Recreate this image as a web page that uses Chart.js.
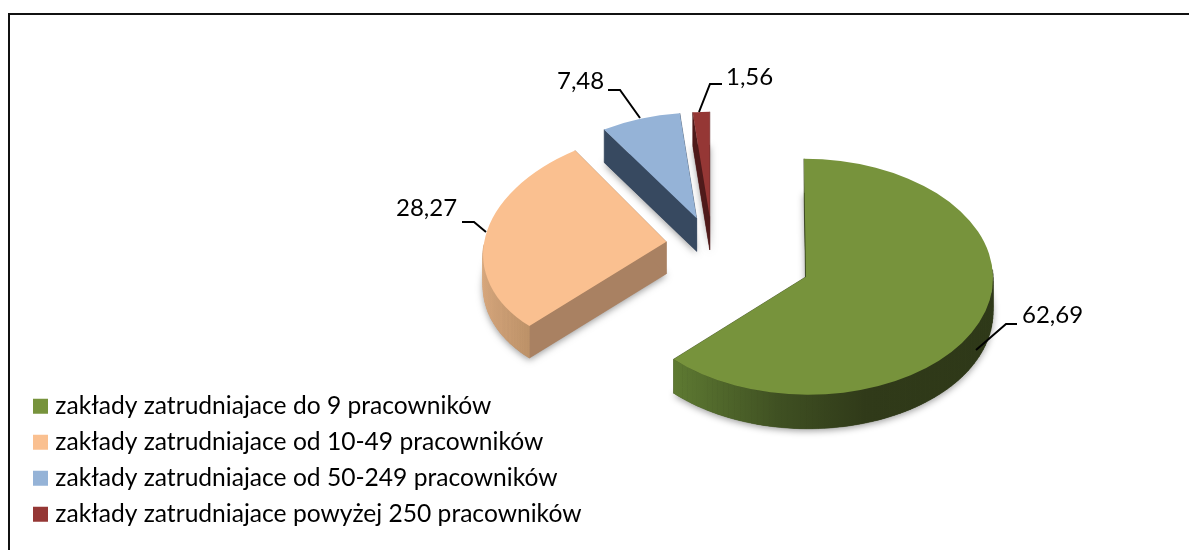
<!DOCTYPE html>
<html>
<head>
<meta charset="utf-8">
<title>Zakłady</title>
<script src="https://cdn.jsdelivr.net/npm/chart.js@4/dist/chart.umd.js"></script>
<style>
    html, body { margin: 0; padding: 0; background: #fff; overflow: hidden; }
    #frame { position: absolute; left: 8px; top: 13px; right: 0; bottom: 0; border-left: 2px solid #111; border-top: 2px solid #111; }
    #chart { position: absolute; left: 0; top: 0; }
</style>
</head>
<body>
<div id="frame"></div>
<canvas id="chart" width="1189" height="550"></canvas>
<script>
// --- Dane ---
const categories = [
    'zakłady zatrudniajace do 9 pracowników',
    'zakłady zatrudniajace od 10-49 pracowników',
    'zakłady zatrudniajace od 50-249 pracowników',
    'zakłady zatrudniajace powyżej 250 pracowników'
];
const shares = [62.69, 28.27, 7.48, 1.56];
const sliceColors = ['#77933C', '#FAC090', '#95B3D7', '#953735'];

// --- Wygląd 3D (perspektywa jest tylko udawana, każdy wycinek ma własne skalowanie) ---
const pieCenter = { x: 712, y: 245 };
const explodeTilt = 0.6;
const explode = [102, 46, 47, 47];
const liftY = [8, 0, 0, 0];
const faceRx = [187, 183, 172, 174];
const faceRy = [118, 113, 105.5, 105];
const skewX = [2, -8.6, 0, 0];
const skewY = [0, -7.4, 0, 0];
const depth = [34, 32, 33, 33];
const cutColors = ['#35421B', '#A98162', '#374960', '#4F1A1A'];
const wallStops = [
    [[0, '#5E7A32'], [0.33, '#3F5022'], [0.6, '#303A19'], [1, '#2E3818']],
    [[0, '#D6A67C'], [0.5, '#BD9268'], [1, '#A98162']],
    [[0, '#374960'], [1, '#374960']],
    [[0, '#4F1A1A'], [1, '#4F1A1A']]
];

// Linie odniesienia i etykiety
const labelAnchors = [
    { text: [1022, 315], line: [[1017, 324], [1006, 324], [976, 350]] },
    { text: [396, 208], line: [[462, 222], [474, 222], [486, 232]] },
    { text: [557, 81], line: [[608, 90], [620, 90], [640, 118]] },
    { text: [726, 77], line: [[722, 84], [710, 84], [699, 112]] }
];

function sliceView(arc, i) {
    const { startAngle, endAngle, x, y, outerRadius } = arc.getProps(['startAngle', 'endAngle', 'x', 'y', 'outerRadius'], true);
    const mid = (startAngle + endAngle) / 2;
    const apexX = pieCenter.x + Math.cos(mid) * explode[i];
    const apexY = pieCenter.y + Math.sin(mid) * explode[i] * explodeTilt + liftY[i];
    const a = faceRx[i] / outerRadius, b = skewY[i] / outerRadius;
    const c = skewX[i] / outerRadius, d = faceRy[i] / outerRadius;
    return {
        startAngle, endAngle, apexX, apexY,
        matrix: [a, b, c, d, apexX - a * x - c * y, apexY - b * x - d * y],
        // punkt na krawędzi ściany górnej
        rim: t => [
            apexX + faceRx[i] * Math.cos(t) + skewX[i] * Math.sin(t),
            apexY + skewY[i] * Math.cos(t) + faceRy[i] * Math.sin(t)
        ]
    };
}

function fillQuad(ctx, p, q, h) {
    ctx.beginPath();
    ctx.moveTo(p[0], p[1]);
    ctx.lineTo(q[0], q[1]);
    ctx.lineTo(q[0], q[1] + h);
    ctx.lineTo(p[0], p[1] + h);
    ctx.closePath();
    ctx.fill();
    ctx.stroke();
}

function drawWalls(ctx, view, i) {
    const h = depth[i];
    const steps = 120;
    const pts = [];
    const angles = [];
    for (let s = 0; s <= steps; s++) {
        const t = view.startAngle + (view.endAngle - view.startAngle) * s / steps;
        angles.push(t);
        pts.push(view.rim(t));
    }
    const apex = [view.apexX, view.apexY];

    // cień pod bryłą
    ctx.save();
    ctx.shadowColor = 'rgba(0,0,0,0.4)';
    ctx.shadowBlur = 7;
    ctx.shadowOffsetX = 0;
    ctx.shadowOffsetY = 2;
    ctx.fillStyle = cutColors[i];
    ctx.beginPath();
    ctx.moveTo(apex[0], apex[1] + h);
    pts.forEach(p => ctx.lineTo(p[0], p[1] + h));
    ctx.closePath();
    ctx.fill();
    ctx.restore();

    // ściany przekroju
    ctx.fillStyle = cutColors[i];
    ctx.strokeStyle = cutColors[i];
    ctx.lineWidth = 0.5;
    fillQuad(ctx, apex, pts[0], h);
    fillQuad(ctx, apex, pts[steps], h);

    // ściana boczna z gradientem, tylko dolna część łuku jest widoczna
    const xs = pts.map(p => p[0]);
    const grad = ctx.createLinearGradient(Math.min(...xs), 0, Math.max(...xs), 0);
    wallStops[i].forEach(st => grad.addColorStop(st[0], st[1]));
    ctx.fillStyle = grad;
    ctx.strokeStyle = grad;
    for (let s = 0; s < steps; s++) {
        if (Math.sin(angles[s]) < -0.03 && Math.sin(angles[s + 1]) < -0.03) continue;
        fillQuad(ctx, pts[s], pts[s + 1], h);
    }
}

const pie3d = {
    id: 'pie3d',
    beforeDatasetDraw(chart) {
        const ctx = chart.ctx;
        const arcs = chart.getDatasetMeta(0).data;
        const views = arcs.map(sliceView);
        views.forEach((view, i) => drawWalls(ctx, view, i));
        arcs.forEach((arc, i) => {
            ctx.save();
            ctx.transform(...views[i].matrix);
            arc.draw(ctx);
            ctx.restore();
        });
        return false;
    },
    afterDatasetsDraw(chart) {
        const ctx = chart.ctx;
        ctx.save();
        ctx.strokeStyle = '#000';
        ctx.lineWidth = 2;
        ctx.fillStyle = '#000';
        ctx.font = '24px Lato';
        ctx.textBaseline = 'middle';
        ctx.textAlign = 'left';
        labelAnchors.forEach((anchor, i) => {
            ctx.beginPath();
            anchor.line.forEach((p, n) => n ? ctx.lineTo(p[0], p[1]) : ctx.moveTo(p[0], p[1]));
            ctx.stroke();
            ctx.fillText(String(shares[i]).replace('.', ','), anchor.text[0], anchor.text[1]);
        });
        ctx.restore();
    }
};

new Chart(document.getElementById('chart'), {
    type: 'pie',
    data: {
        labels: categories,
        datasets: [{
            data: shares,
            backgroundColor: sliceColors,
            borderWidth: 0
        }]
    },
    options: {
        responsive: false,
        animation: false,
        layout: { padding: { left: 26.6, bottom: 12 } },
        plugins: {
            tooltip: { enabled: false },
            legend: {
                position: 'left',
                align: 'end',
                labels: {
                    // mały kwadrat z grubym obrysem, żeby tekst był bliżej znacznika
                    boxWidth: 5,
                    boxHeight: 5,
                    padding: 11.4,
                    color: '#000',
                    font: { family: 'Lato', size: 24.6 },
                    generateLabels(chart) {
                        return Chart.overrides.pie.plugins.legend.labels.generateLabels(chart).map((item, i) => ({
                            ...item,
                            lineWidth: 10,
                            strokeStyle: sliceColors[i]
                        }));
                    }
                }
            }
        }
    },
    plugins: [pie3d]
});
</script>
</body>
</html>
